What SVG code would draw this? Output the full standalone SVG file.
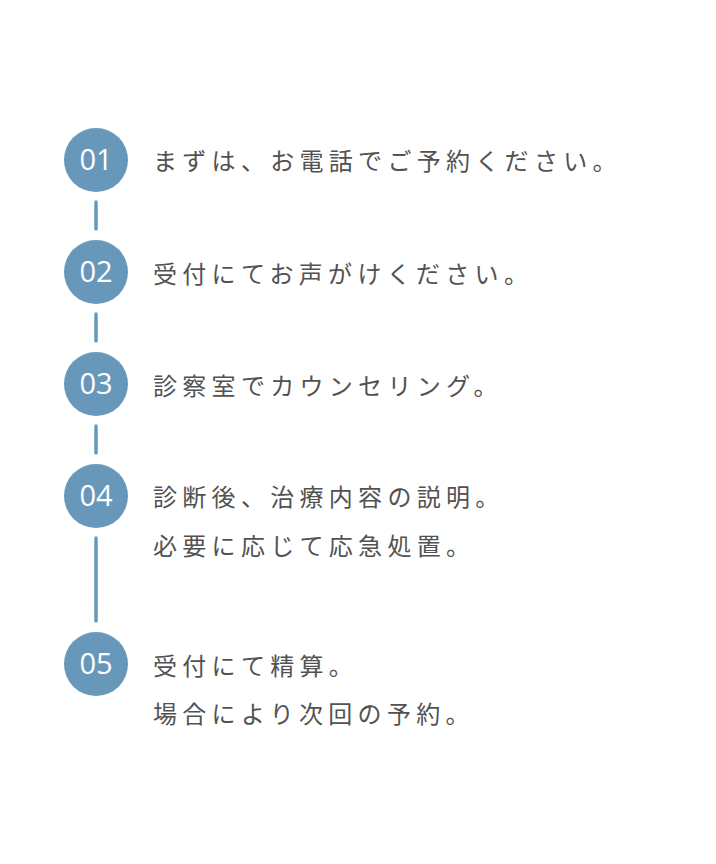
<svg xmlns="http://www.w3.org/2000/svg" width="716" height="864" viewBox="0 0 716 864">
<style>
.c{fill:#6798ba}
.n{font-family:"Open Sans","Noto Sans",sans-serif;font-size:29px;fill:#fff;text-anchor:middle}
.t{font-family:"Noto Sans CJK JP",sans-serif;font-size:24px;fill:#525252;letter-spacing:5.3px}
.l{stroke:#6798ba;stroke-width:3.5;stroke-linecap:round;fill:none}
</style>
<rect width="716" height="864" fill="#fff"/>
<g id="connectors">
<line class="l" x1="96" y1="202" x2="96" y2="229"/>
<line class="l" x1="96" y1="314" x2="96" y2="341"/>
<line class="l" x1="96" y1="426" x2="96" y2="453"/>
<line class="l" x1="96" y1="538" x2="96" y2="621"/>
</g>
<g id="step01"><circle class="c" cx="96" cy="160" r="32"/><text class="n" x="96" y="170">01</text><text class="t" x="153" y="170">まずは、お電話でご予約ください。</text></g>
<g id="step02"><circle class="c" cx="96" cy="272" r="32"/><text class="n" x="96" y="282">02</text><text class="t" x="153" y="283">受付にてお声がけください。</text></g>
<g id="step03"><circle class="c" cx="96" cy="384" r="32"/><text class="n" x="96" y="394">03</text><text class="t" x="153" y="395">診察室でカウンセリング。</text></g>
<g id="step04"><circle class="c" cx="96" cy="496" r="32"/><text class="n" x="96" y="506">04</text><text class="t" x="153" y="506">診断後、治療内容の説明。</text><text class="t" x="153" y="555">必要に応じて応急処置。</text></g>
<g id="step05"><circle class="c" cx="96" cy="664" r="32"/><text class="n" x="96" y="674">05</text><text class="t" x="153" y="675">受付にて精算。</text><text class="t" x="153" y="723">場合により次回の予約。</text></g>
</svg>
